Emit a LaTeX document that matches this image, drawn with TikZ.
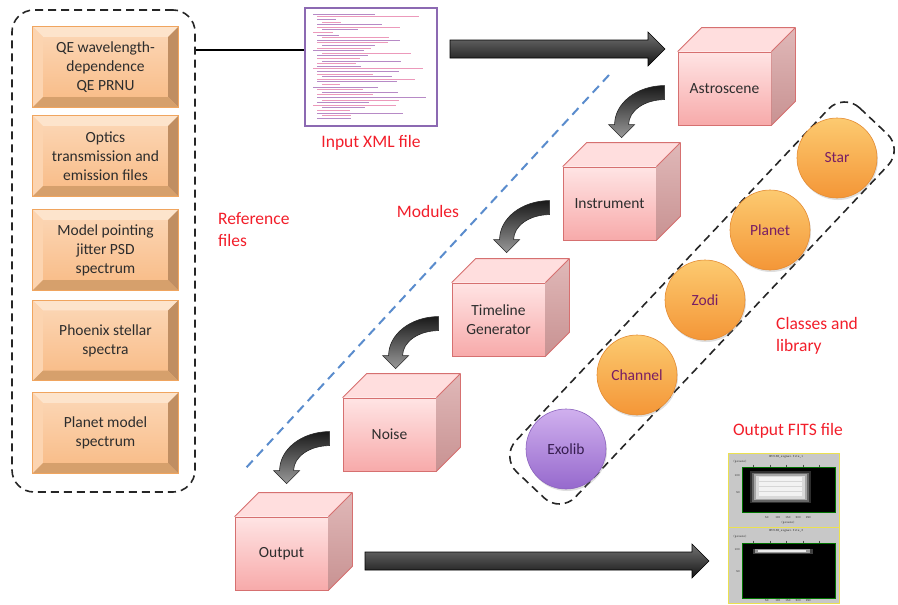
\documentclass[tikz,border=0pt]{standalone}
\usepackage{fontspec}
\setmainfont{Carlito}
\usetikzlibrary{calc,shadows}
\definecolor{redlbl}{RGB}{242,30,42}
\definecolor{boxborder}{RGB}{240,165,95}
\definecolor{facetop}{RGB}{252,216,184}
\definecolor{facebot}{RGB}{248,186,132}
\definecolor{bevtop}{RGB}{253,228,204}
\definecolor{bevleft}{RGB}{252,212,176}
\definecolor{bevright}{RGB}{192,142,98}
\definecolor{bevbot}{RGB}{214,160,108}
\definecolor{cubeedge}{RGB}{214,112,112}
\definecolor{cubefronttop}{RGB}{255,228,228}
\definecolor{cubefrontbot}{RGB}{247,170,170}
\definecolor{cubetop}{RGB}{255,222,222}
\definecolor{cuberighttop}{RGB}{224,184,184}
\definecolor{cuberightbot}{RGB}{200,146,146}
\definecolor{orangetop}{RGB}{252,202,112}
\definecolor{orangebot}{RGB}{244,150,55}
\definecolor{orangeedge}{RGB}{228,140,52}
\definecolor{purpletop}{RGB}{208,176,238}
\definecolor{purplebot}{RGB}{150,105,205}
\definecolor{purpleedge}{RGB}{140,100,190}
\definecolor{circtext}{RGB}{120,30,100}
\definecolor{exotext}{RGB}{55,30,80}
\definecolor{xmlframe}{RGB}{140,105,178}
\definecolor{xmlpink}{RGB}{230,120,165}
\definecolor{xmlpurp}{RGB}{160,100,180}
\definecolor{dashblue}{RGB}{90,140,205}
\definecolor{txt}{RGB}{45,45,45}
\definecolor{fitsgray}{RGB}{200,200,200}
\definecolor{fitsyellow}{RGB}{235,225,80}

\newcommand\bevelsides[1]{%
 \fill[bevtop] (#1.north west) -- (#1.north east) -- ($(#1.north east)+(-10,10)$) -- ($(#1.north west)+(10,10)$) -- cycle;
 \fill[bevleft] (#1.north west) -- ($(#1.north west)+(10,10)$) -- ($(#1.south west)+(10,-10)$) -- (#1.south west) -- cycle;
 \fill[bevright] (#1.north east) -- (#1.south east) -- ($(#1.south east)+(-10,-10)$) -- ($(#1.north east)+(-10,10)$) -- cycle;
 \fill[bevbot] (#1.south west) -- (#1.south east) -- ($(#1.south east)+(-10,-10)$) -- ($(#1.south west)+(10,-10)$) -- cycle;
 \draw[boxborder,line width=0.8] (#1.north west) rectangle (#1.south east);}

\newcommand\cubesides[1]{%
 \fill[cubetop] (#1.north west) -- ++(24,-24) -- ($(#1.north east)+(24,-24)$) -- (#1.north east) -- cycle;
 \shade[top color=cuberighttop,bottom color=cuberightbot] (#1.north east) -- ($(#1.north east)+(24,-24)$) -- ($(#1.south east)+(24,-24)$) -- (#1.south east) -- cycle;
 \draw[cubeedge,line width=0.8,line join=round] (#1.north west) -- ++(24,-24) -- ($(#1.north east)+(24,-24)$) -- ($(#1.south east)+(24,-24)$) -- (#1.south east) (#1.north east) -- ($(#1.north east)+(24,-24)$);}

\newcommand\bentarrow[2]{%
 \coordinate (#2) at ($(#1.north west)+(-13,41)$);
 \shade[bentstyle] ($(#2)+(0,-7)$) .. controls ($(#2)+(-27.6,-7)$) and ($(#2)+(-50,10.5)$) .. ($(#2)+(-50,32)$) -- ($(#2)+(-56,32)$) -- ($(#2)+(-43,45)$) -- ($(#2)+(-30,32)$) -- ($(#2)+(-36,32)$) .. controls ($(#2)+(-36,18.2)$) and ($(#2)+(-19.9,7)$) .. ($(#2)+(0,7)$) -- cycle;}

\newcommand\fatarrow[2]{%
 \shade[fatstyle] ($(#1)+(0,-9)$) -- ($(#2)+(-17,-9)$) -- ($(#2)+(-17,-17)$) -- (#2) -- ($(#2)+(-17,17)$) -- ($(#2)+(-17,9)$) -- ($(#1)+(0,9)$) -- cycle;}

\begin{document}
\begin{tikzpicture}[x=1pt,y=-1pt,
  bevelbox/.style={minimum width=145, minimum height=80, inner sep=0, align=center,
     top color=facetop, bottom color=facebot, text=txt, font=\fontsize{15.5}{19}\selectfont},
  cubefront/.style={minimum width=93, minimum height=73, inner sep=0, align=center,
     top color=cubefronttop, bottom color=cubefrontbot, draw=cubeedge, line width=0.8,
     text=txt, font=\fontsize{15.5}{18.5}\selectfont},
  ball/.style={circle, minimum size=80, inner sep=0, top color=orangetop, bottom color=orangebot,
     draw=orangeedge, line width=0.6, text=circtext, font=\fontsize{15.5}{18}\selectfont,
     drop shadow={opacity=0.25, shadow xshift=1pt, shadow yshift=-2pt}},
  redlabel/.style={text=redlbl, align=left, font=\fontsize{17.5}{22}\selectfont, inner sep=0},
  groupbox/.style={draw=black!85, dash pattern=on 8pt off 5pt, line width=1.6, rounded corners=22},
  bentstyle/.style={top color=black!90, bottom color=black!40, draw=black!85, line width=0.6},
  fatstyle/.style={top color=black!55, bottom color=black!92, draw=black, line width=0.6},
  tinytext/.style={font=\fontsize{3.2}{3.6}\ttfamily, inner sep=0, text=black!80}
]
\useasboundingbox (0,0) rectangle (898,605);

% ---------- reference files group ----------
\node[groupbox, minimum width=183, minimum height=482, inner sep=0] (refs) at (103.5,251) {};
\node[bevelbox] (qe) at (105.5,67) {QE wavelength-\\dependence\\QE PRNU};
\bevelsides{qe}
\node[bevelbox] (optics) at (105.5,156) {Optics\\transmission and\\emission files};
\bevelsides{optics}
\node[bevelbox] (jitter) at (105.5,250) {Model pointing\\jitter PSD\\spectrum};
\bevelsides{jitter}
\node[bevelbox] (phoenix) at (105.5,340.5) {Phoenix stellar\\spectra};
\bevelsides{phoenix}
\node[bevelbox] (planetmodel) at (105.5,433) {Planet model\\spectrum};
\bevelsides{planetmodel}
\node[redlabel, anchor=west] (reflbl) at (218,230) {Reference\\files};

% ---------- XML file ----------
\node[draw=xmlframe, line width=1.8, fill=white, minimum width=132, minimum height=118, inner sep=0] (xml) at (371,67) {};
\pgfmathsetseed{5}
\foreach \i in {0,...,40}{
  \pgfmathsetmacro\yy{14+\i*2.6}
  \pgfmathsetmacro\ind{mod(\i,7)==0 ? 0 : (mod(\i,3)==0 ? 9 : 4)}
  \pgfmathsetmacro\len{14+rnd*(100-\ind)}
  \ifodd\i
    \draw[xmlpink, line width=0.55, opacity=0.75] (313+\ind,\yy) -- ++(\len,0);
  \else
    \draw[xmlpurp, line width=0.55, opacity=0.75] (313+\ind,\yy) -- ++(\len,0);
  \fi
}
\node[redlabel, align=center] (xmllbl) at (371,143) {Input XML file};
\draw[black, line width=1.4] (refs.east |- 0,50) -- (xml.west |- 0,50);

% ---------- modules ----------
\draw[dashblue, line width=2, dash pattern=on 9pt off 6pt] (609,75) coordinate (dl1) -- (245,469) coordinate (dl2);
\node[redlabel, align=center] (modlbl) at (428,211) {Modules};

\node[cubefront] (astro) at (724.5,88.5) {Astroscene};
\cubesides{astro}
\node[cubefront] (instr) at (609.5,203.5) {Instrument};
\cubesides{instr}
\node[cubefront] (timeline) at (498.5,319.5) {Timeline\\Generator};
\cubesides{timeline}
\node[cubefront] (noise) at (389.5,434.5) {Noise};
\cubesides{noise}
\node[cubefront] (output) at (281.5,553.5) {Output};
\cubesides{output}

\bentarrow{astro}{b1}
\bentarrow{instr}{b2}
\bentarrow{timeline}{b3}
\bentarrow{noise}{b4}

\coordinate (fa1s) at (450,49);
\coordinate (fa1e) at (665,49);
\fatarrow{fa1s}{fa1e}
\coordinate (fa2s) at (365,561);
\coordinate (fa2e) at (709,561);
\fatarrow{fa2s}{fa2e}

% ---------- classes and library ----------
\draw[groupbox] (843.7,92.9) -- (903.3,149.1) -- (560.3,513.1) -- (500.7,456.9) -- cycle;
\node[ball] (star) at (837,158) {Star};
\node[ball] (planet) at (770,230) {Planet};
\node[ball] (zodi) at (705,300) {Zodi};
\node[ball] (channel) at (637,375) {Channel};
\node[ball, top color=purpletop, bottom color=purplebot, draw=purpleedge, text=exotext] (exolib) at (566,449) {Exolib};
\node[redlabel, anchor=west] (classlbl) at (776,336) {Classes and\\library};

% ---------- output FITS ----------
\node[redlabel, align=center] (fitslbl) at (788,431) {Output FITS file};
\node[fill=fitsgray, draw=fitsyellow, line width=0.8, minimum width=111, minimum height=74, inner sep=0] (fits1) at (783.5,490) {};
\node[fill=fitsgray, draw=fitsyellow, line width=0.8, minimum width=111, minimum height=76, inner sep=0] (fits2) at (783.5,565) {};
% top panel plot
\fill[black] (742,467) rectangle (835,512);
\fill[white!18!black] (750,471) rectangle (811,503);
\fill[white!40!black] (752,472.5) rectangle (809,501.5);
\fill[white!65!black] (754,474) rectangle (807,500);
\fill[white!85!black] (756,475.5) rectangle (805,498.5);
\fill[white!95!black] (759,477) rectangle (802,496);
\foreach \yy in {481,486,491}{\draw[white!84!black, line width=0.4] (759,\yy) -- (802,\yy);}
\draw[green!45!black, line width=0.6] (742,467) rectangle (835,512);
\foreach \xx in {753.5,770,786.5,803,819.5}{\draw[black!70, line width=0.3] (\xx,464.5) -- (\xx,467);}
\node[tinytext] at (786,457) {HPC1SN\_signal.fits\_1};
\node[tinytext] at (740,462) {(pixels)};
\node[tinytext, anchor=east] at (740,476) {100};
\node[tinytext, anchor=east] at (740,493) {50};
\node[tinytext] at (788,518) {50\ \ \ \ 100\ \ \ 150\ \ \ 200\ \ \ 250};
\node[tinytext] at (788,522.5) {(pixels)};
% bottom panel plot
\fill[black] (742,543) rectangle (835,598);
\fill[white!25!black] (753,548.5) rectangle (813,553.5);
\fill[white!60!black] (755,549.3) rectangle (810,552.7);
\fill[white!92!black] (758,550) rectangle (806,552);
\draw[green!45!black, line width=0.6] (742,543) rectangle (835,598);
\foreach \xx in {753.5,770,786.5,803,819.5}{\draw[black!70, line width=0.3] (\xx,540.5) -- (\xx,543);}
\node[tinytext] at (786,531) {HPC1SN\_signal.fits\_3};
\node[tinytext] at (740,537) {(pixels)};
\node[tinytext, anchor=east] at (740,550) {100};
\node[tinytext, anchor=east] at (740,572) {50};
\node[tinytext] at (788,601) {50\ \ \ \ 100\ \ \ 150\ \ \ 200\ \ \ 250};
\end{tikzpicture}
\end{document}
